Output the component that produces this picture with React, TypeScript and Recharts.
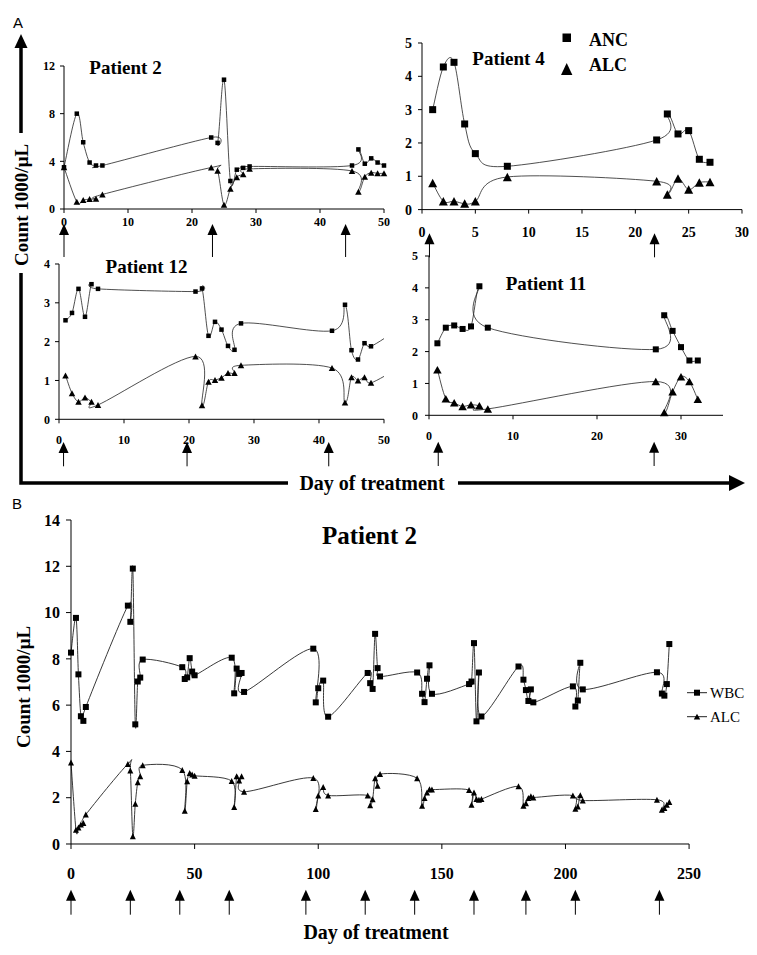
import React from "react";
import { LineChart, Line, XAxis, YAxis } from "recharts";

// ---- Panel A, patient 2 ----
const P2_DAYS = [0, 2, 3, 4, 5, 6, 23, 24, 25, 26, 27, 28, 29, 45, 46, 47, 48, 49, 50];
const P2_ANC = [3.5, 8.0, 5.6, 3.9, 3.65, 3.65, 6.0, 5.55, 10.85, 2.35, 3.3, 3.45, 3.57, 3.65, 5.0, 3.8, 4.25, 3.9, 3.65];
const P2_ALC = [3.5, 0.6, 0.75, 0.83, 0.86, 1.22, 3.48, 3.2, 0.35, 1.7, 2.67, 2.92, 3.37, 3.19, 1.45, 2.71, 3.05, 2.99, 2.99];
const P2_DOSES = [0, 23.2, 44];

// ---- Panel A, patient 4 ----
const P4_DAYS = [1, 2, 3, 4, 5, 8, 22, 23, 24, 25, 26, 27];
const P4_ANC = [3.0, 4.28, 4.42, 2.57, 1.68, 1.3, 2.09, 2.87, 2.27, 2.37, 1.51, 1.42];
const P4_ALC = [0.8, 0.25, 0.25, 0.18, 0.25, 0.98, 0.85, 0.45, 0.93, 0.6, 0.81, 0.83];
const P4_DOSES = [0.7, 21.8];

// ---- Panel A, patient 12 ----
const P12_DAYS = [1, 2, 3, 4, 5, 6, 21, 22, 23, 24, 25, 26, 27, 28, 42, 44, 45, 46, 47, 48, 52];
const P12_ANC = [2.55, 2.74, 3.36, 2.64, 3.48, 3.36, 3.29, 3.37, 2.15, 2.51, 2.31, 1.89, 1.79, 2.47, 2.28, 2.95, 1.78, 1.54, 1.96, 1.88, 2.3];
const P12_ALC = [1.13, 0.67, 0.45, 0.56, 0.45, 0.37, 1.62, 0.36, 0.97, 1.01, 1.07, 1.19, 1.19, 1.39, 1.32, 0.43, 1.08, 1.0, 1.08, 0.94, 1.3];
const P12_DOSES = [0.7, 19.7, 41.5];

// ---- Panel A, patient 11 ----
const P11_DAYS = [1, 2, 3, 4, 5, 6, 7, 27, 28, 29, 30, 31, 32];
const P11_ANC = [2.26, 2.75, 2.82, 2.71, 2.79, 4.05, 2.75, 2.07, 3.14, 2.65, 2.14, 1.72, 1.72];
const P11_ALC = [1.43, 0.52, 0.39, 0.28, 0.33, 0.3, 0.2, 1.06, 0.09, 0.74, 1.21, 1.06, 0.5];
const P11_DOSES = [1.1, 26.8];

// ---- Panel B, patient 2 long course ----
const B_DAYS = [
  0, 2, 3, 4, 5, 6,
  23, 24, 25, 26, 27, 28, 29,
  45, 46, 47, 48, 49, 50,
  65, 66, 67, 68, 69, 70,
  98, 99, 100, 102, 104,
  120, 121, 122, 123, 124, 125,
  140, 142, 143, 144, 145, 146,
  161, 162, 163, 164, 165, 166,
  181, 183, 184, 185, 186, 187,
  203, 204, 205, 206, 207,
  237, 239, 240, 241, 242,
];
const B_WBC = [
  8.27, 9.77, 7.33, 5.52, 5.32, 5.92,
  10.3, 9.6, 11.9, 5.17, 7.02, 7.19, 7.97,
  7.64, 7.13, 7.2, 8.03, 7.45, 7.29,
  8.05, 6.51, 7.58, 7.35, 7.39, 6.57,
  8.44, 6.12, 6.73, 7.06, 5.5,
  7.39, 6.95, 6.7, 9.08, 7.6, 7.24,
  7.41, 6.49, 6.13, 7.14, 7.72, 6.49,
  6.91, 7.02, 8.68, 5.3, 7.41, 5.51,
  7.67, 7.1, 6.65, 6.18, 6.68, 6.12,
  6.81, 5.94, 6.2, 7.83, 6.68,
  7.42, 6.5, 6.41, 6.91, 8.64,
];
const B_ALC = [
  3.52, 0.62, 0.71, 0.84, 0.91, 1.27,
  3.46, 3.18, 0.33, 1.74, 2.67, 2.93, 3.4,
  3.2, 1.44, 2.71, 3.07, 3.0, 2.95,
  2.72, 1.6, 2.93, 2.74, 2.93, 2.26,
  2.85, 1.51, 2.1, 2.46, 2.1,
  2.1, 1.67, 1.93, 2.84, 2.52, 3.02,
  2.84, 1.65, 1.99, 2.23, 2.37, 2.35,
  2.33, 1.7, 2.23, 1.94, 1.91, 1.94,
  2.49, 1.65, 1.76, 1.99, 2.06, 2.01,
  2.09, 1.52, 1.62, 2.11, 1.88,
  1.91, 1.48, 1.55, 1.7, 1.81,
];
const B_DOSES = [0, 24, 44, 64, 95, 119, 139, 163, 184, 204, 238];

// ticks
const X_TICKS_50 = [0, 10, 20, 30, 40, 50];
const X_TICKS_30 = [0, 5, 10, 15, 20, 25, 30];
const X_TICKS_35 = [0, 10, 20, 30];
const X_TICKS_250 = [0, 50, 100, 150, 200, 250];
const Y_TICKS_12 = [0, 4, 8, 12];
const Y_TICKS_5 = [0, 1, 2, 3, 4, 5];
const Y_TICKS_4 = [0, 1, 2, 3, 4];
const Y_TICKS_14 = [0, 2, 4, 6, 8, 10, 12, 14];

const FONT = '"Liberation Serif", "Times New Roman", serif';

// Excel-like smoothed line (cardinal spline, tension 0)
function excelSmooth(context: any) {
  let pts: number[][] = [];
  return {
    areaStart() {},
    areaEnd() {},
    lineStart() {
      pts = [];
    },
    point(x: number, y: number) {
      pts.push([+x, +y]);
    },
    lineEnd() {
      const n = pts.length;
      if (!n) return;
      context.moveTo(pts[0][0], pts[0][1]);
      for (let i = 0; i < n - 1; i++) {
        const p0 = pts[i - 1] || pts[i];
        const p1 = pts[i];
        const p2 = pts[i + 1];
        const p3 = pts[i + 2] || p2;
        context.bezierCurveTo(
          p1[0] + (p2[0] - p0[0]) / 6,
          p1[1] + (p2[1] - p0[1]) / 6,
          p2[0] - (p3[0] - p1[0]) / 6,
          p2[1] - (p3[1] - p1[1]) / 6,
          p2[0],
          p2[1]
        );
      }
    },
  };
}

const squareDot = (s: number) => (p: any) => {
  if (p.cx == null || p.cy == null) return <g key={`s-${p.index}`} />;
  return <rect key={`s-${p.index}`} x={p.cx - s / 2} y={p.cy - s / 2} width={s} height={s} fill="#000" />;
};

const triangleDot = (w: number, h: number) => (p: any) => {
  if (p.cx == null || p.cy == null) return <g key={`t-${p.index}`} />;
  const pts = `${p.cx},${p.cy - h / 2} ${p.cx - w / 2},${p.cy + h / 2} ${p.cx + w / 2},${p.cy + h / 2}`;
  return <polygon key={`t-${p.index}`} points={pts} fill="#000" />;
};

const doseArrow = (len: number) => (p: any) => (
  <g key={`a-${p.index}`}>
    <polygon points={`${p.x},${p.y} ${p.x - 5},${p.y + 11} ${p.x + 5},${p.y + 11}`} fill="#000" />
    <line x1={p.x} y1={p.y + 10} x2={p.x} y2={p.y + len} stroke="#000" strokeWidth={1} />
  </g>
);

type PanelProps = {
  days: number[];
  a: number[];
  b: number[];
  doses: number[];
  box: number[]; // plot area: left, top, right, bottom
  xMax: number;
  yMax: number;
  xTicks: number[];
  yTicks: number[];
  fs: number;
  tickLen: number;
  xGap: number;
  yGap: number;
  doseTop: number;
  doseLen: number;
  sq: number;
  tri: number[];
  clip?: boolean;
  lineW: number;
};

function Panel(p: PanelProps) {
  const YW = 40;
  const MT = 10;
  const MR = 12;
  const [x0, y0, x1, y1] = p.box;
  const data = p.days.map((d, i) => ({ day: d, a: p.a[i], b: p.b[i] }));
  const h1 = p.doseTop - y1;
  const h2 = p.doseLen + 2;
  const width = x1 - x0 + YW + MR;
  const height = MT + (y1 - y0) + h1 + h2;
  const tickStyle = { fontSize: p.fs, fontWeight: "bold", fill: "#000", fontFamily: FONT };
  return (
    <div style={{ position: "absolute", left: x0 - YW, top: y0 - MT }}>
      <LineChart width={width} height={height} data={data} margin={{ top: MT, right: MR, left: 0, bottom: 0 }}>
        <XAxis
          dataKey="day"
          type="number"
          domain={[0, p.xMax]}
          ticks={p.xTicks}
          interval={0}
          allowDataOverflow={!!p.clip}
          height={h1}
          tickSize={p.tickLen}
          tickMargin={p.xGap}
          tick={tickStyle}
          stroke="#000"
        />
        <XAxis
          xAxisId="dose"
          dataKey="day"
          type="number"
          domain={[0, p.xMax]}
          ticks={p.doses}
          interval={0}
          allowDataOverflow
          axisLine={false}
          tickLine={false}
          tickSize={0}
          tickMargin={0}
          height={h2}
          tick={doseArrow(p.doseLen)}
        />
        <YAxis
          type="number"
          domain={[0, p.yMax]}
          ticks={p.yTicks}
          interval={0}
          width={YW}
          tickSize={p.tickLen}
          tickMargin={p.yGap}
          tick={tickStyle}
          stroke="#000"
        />
        <Line
          dataKey="a"
          type={excelSmooth as any}
          stroke="#222"
          strokeWidth={p.lineW}
          dot={squareDot(p.sq)}
          activeDot={false}
          isAnimationActive={false}
        />
        <Line
          dataKey="b"
          type={excelSmooth as any}
          stroke="#222"
          strokeWidth={p.lineW}
          dot={triangleDot(p.tri[0], p.tri[1])}
          activeDot={false}
          isAnimationActive={false}
        />
      </LineChart>
    </div>
  );
}

function Overlay() {
  const bold = { fontFamily: FONT, fontWeight: "bold" as const, fill: "#000" };
  return (
    <svg width={757} height={955} style={{ position: "absolute", left: 0, top: 0, pointerEvents: "none" }}>
      {/* panel A frame arrows */}
      <text x={13} y={28} fontSize={15} fontFamily='"Liberation Sans", Arial, sans-serif'>A</text>
      <polygon points="21,34 14.5,48 27.5,48" fill="#000" />
      <line x1={21} y1={47} x2={21} y2={133} stroke="#000" strokeWidth={3.5} />
      <text
        {...bold}
        fontSize={19}
        x={21}
        y={205}
        textAnchor="middle"
        dominantBaseline="central"
        transform="rotate(-90 21 205)"
      >
        Count 1000/μL
      </text>
      <polyline points="21,273 21,483 288,483" fill="none" stroke="#000" strokeWidth={3.5} />
      <text {...bold} fontSize={20} x={372} y={483} textAnchor="middle" dominantBaseline="central">
        Day of treatment
      </text>
      <line x1={458} y1={483} x2={731} y2={483} stroke="#000" strokeWidth={3.5} />
      <polygon points="745,483 729,475 729,491" fill="#000" />

      {/* titles */}
      <text {...bold} fontSize={19} x={125.5} y={67} textAnchor="middle" dominantBaseline="central">Patient 2</text>
      <text {...bold} fontSize={19} x={508.5} y={58} textAnchor="middle" dominantBaseline="central">Patient 4</text>
      <text {...bold} fontSize={19} x={146.5} y={266} textAnchor="middle" dominantBaseline="central">Patient 12</text>
      <text {...bold} fontSize={19} x={546} y={283} textAnchor="middle" dominantBaseline="central">Patient 11</text>

      {/* legend A */}
      <rect x={562.5} y={33.5} width={8.5} height={8.5} fill="#000" />
      <text {...bold} fontSize={18} x={589} y={40} dominantBaseline="central">ANC</text>
      <polygon points="566.7,63 561,75 572.4,75" fill="#000" />
      <text {...bold} fontSize={18} x={589} y={65} dominantBaseline="central">ALC</text>

      {/* panel B texts */}
      <text x={12} y={509} fontSize={15} fontFamily='"Liberation Sans", Arial, sans-serif'>B</text>
      <text {...bold} fontSize={25} x={369.5} y={535} textAnchor="middle" dominantBaseline="central">Patient 2</text>
      <text
        {...bold}
        fontSize={19}
        x={23}
        y={687}
        textAnchor="middle"
        dominantBaseline="central"
        transform="rotate(-90 23 687)"
      >
        Count 1000/μL
      </text>
      <text {...bold} fontSize={20} x={376} y={932} textAnchor="middle" dominantBaseline="central">
        Day of treatment
      </text>

      {/* legend B */}
      <line x1={687} y1={692.7} x2={707} y2={692.7} stroke="#222" strokeWidth={1} />
      <rect x={694} y={689.7} width={6} height={6} fill="#000" />
      <text fontFamily={FONT} fontSize={15} x={710} y={693} dominantBaseline="central">WBC</text>
      <line x1={687} y1={716.7} x2={707} y2={716.7} stroke="#222" strokeWidth={1} />
      <polygon points="697,713.7 693.8,719.4 700.2,719.4" fill="#000" />
      <text fontFamily={FONT} fontSize={15} x={710} y={717} dominantBaseline="central">ALC</text>
    </svg>
  );
}

export default function App() {
  return (
    <div style={{ position: "absolute", left: 0, top: 0, width: 757, height: 955, background: "#fff" }}>
      <Panel
        days={P2_DAYS} a={P2_ANC} b={P2_ALC} doses={P2_DOSES}
        box={[64, 66, 384, 209]} xMax={50} yMax={12} xTicks={X_TICKS_50} yTicks={Y_TICKS_12}
        fs={12} tickLen={4} xGap={4} yGap={5} doseTop={224} doseLen={33}
        sq={4.5} tri={[6.5, 6]} lineW={0.8}
      />
      <Panel
        days={P4_DAYS} a={P4_ANC} b={P4_ALC} doses={P4_DOSES}
        box={[421.7, 42.7, 741.7, 209.3]} xMax={30} yMax={5} xTicks={X_TICKS_30} yTicks={Y_TICKS_5}
        fs={14} tickLen={4} xGap={13} yGap={6} doseTop={233} doseLen={24}
        sq={7} tri={[9, 8.5]} lineW={0.8}
      />
      <Panel
        days={P12_DAYS} a={P12_ANC} b={P12_ALC} doses={P12_DOSES}
        box={[59.3, 263.7, 384.3, 419]} xMax={50} yMax={4} xTicks={X_TICKS_50} yTicks={Y_TICKS_4}
        fs={12} tickLen={4} xGap={12} yGap={5} doseTop={441.7} doseLen={24.3}
        sq={4.5} tri={[6.5, 6]} clip lineW={0.8}
      />
      <Panel
        days={P11_DAYS} a={P11_ANC} b={P11_ALC} doses={P11_DOSES}
        box={[428.7, 256, 722.7, 415.3]} xMax={35} yMax={5} xTicks={X_TICKS_35} yTicks={Y_TICKS_5}
        fs={12} tickLen={4} xGap={11.7} yGap={7} doseTop={441.7} doseLen={24.3}
        sq={6} tri={[8.5, 7.5]} lineW={0.8}
      />
      <Panel
        days={B_DAYS} a={B_WBC} b={B_ALC} doses={B_DOSES}
        box={[70.7, 520.3, 688.8, 844.3]} xMax={250} yMax={14} xTicks={X_TICKS_250} yTicks={Y_TICKS_14}
        fs={16} tickLen={5} xGap={18.7} yGap={6} doseTop={890} doseLen={25}
        sq={6} tri={[6, 6]} lineW={0.9}
      />
      <Overlay />
    </div>
  );
}
